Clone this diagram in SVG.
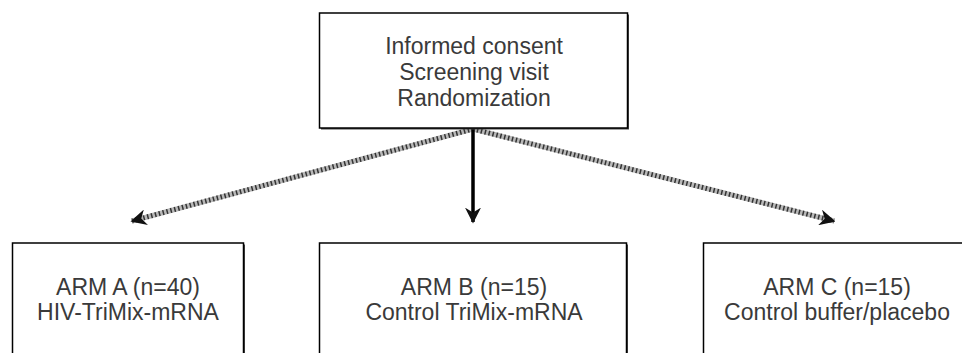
<svg xmlns="http://www.w3.org/2000/svg" width="962" height="353" viewBox="0 0 962 353">
<style>
.box{fill:#fff;stroke:#000;stroke-width:1.5}
.shadow{fill:#444}
.t{font-family:"Liberation Sans",Arial,sans-serif;font-size:23px;fill:#3a3a3a;text-anchor:middle}
.hatchbase{stroke:#b8b8b8;stroke-width:5;fill:none}
.hatch{stroke:#333;stroke-width:5;fill:none;stroke-dasharray:1.5 2.5}
.solid{stroke:#000;stroke-width:3.5;fill:none}
</style>
<defs>
<marker id="ah" viewBox="0 0 10 10" refX="9" refY="5" markerWidth="16" markerHeight="16" markerUnits="userSpaceOnUse" orient="auto">
<path d="M0,0 L10,5 L0,10 L3,5 Z" fill="#111"/>
</marker>
</defs>
<g id="connectors">
<line class="hatchbase" x1="473" y1="129" x2="132" y2="221"/>
<line class="hatch" x1="473" y1="129" x2="132" y2="221" marker-end="url(#ah)"/>
<line class="hatchbase" x1="473" y1="129" x2="834" y2="221"/>
<line class="hatch" x1="473" y1="129" x2="834" y2="221" marker-end="url(#ah)"/>
<line class="solid" x1="473" y1="129" x2="473" y2="222" marker-end="url(#ah)"/>
</g>
<g id="start">
<rect class="shadow" x="321" y="14.5" width="308" height="115"/>
<rect class="box" x="319.5" y="13" width="308" height="115"/>
<text class="t" x="474" y="54">Informed consent</text>
<text class="t" x="474" y="80">Screening visit</text>
<text class="t" x="474" y="106">Randomization</text>
</g>
<g id="armA">
<rect class="shadow" x="14" y="244.5" width="231" height="130"/>
<rect class="box" x="12.5" y="243" width="231" height="130"/>
<text class="t" x="128" y="295">ARM A (n=40)</text>
<text class="t" x="128" y="320">HIV-TriMix-mRNA</text>
</g>
<g id="armB">
<rect class="shadow" x="321" y="244.5" width="307" height="130"/>
<rect class="box" x="319.5" y="243" width="307" height="130"/>
<text class="t" x="474" y="295">ARM B (n=15)</text>
<text class="t" x="474" y="320">Control TriMix-mRNA</text>
</g>
<g id="armC">
<rect class="shadow" x="705" y="244.5" width="268" height="130"/>
<rect class="box" x="703.5" y="243" width="268" height="130"/>
<text class="t" x="837" y="295">ARM C (n=15)</text>
<text class="t" x="837" y="320">Control buffer/placebo</text>
</g>
</svg>
